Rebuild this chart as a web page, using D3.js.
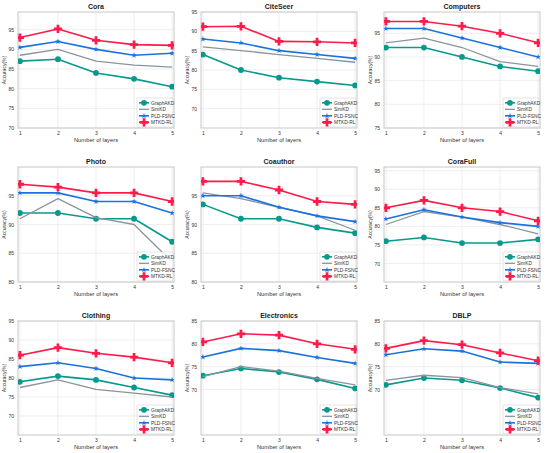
<!DOCTYPE html>
<html>
<head>
<meta charset="utf-8">
<script src="https://cdn.jsdelivr.net/npm/d3@7"></script>
<style>
  body { margin: 0; background: #fff; }
  svg { display: block; font-family: "Liberation Sans", Arial, sans-serif; }
</style>
</head>
<body>
<div id="chart"></div>
<script>
// datasets, one panel each (row by row)
const datasets = ["Cora", "CiteSeer", "Computers", "Photo", "Coauthor", "CoraFull", "Clothing", "Electronics", "DBLP"];
const layers = [1, 2, 3, 4, 5];
const methods = ["GraphAKD", "SimKD", "PLD-FSNC", "MTKD-RL"];

// accuracy (%) per dataset, per layer count
const graphAKD = [
  [87, 87.5, 84, 82.5, 80.5],
  [84, 80, 78, 77, 76],
  [92, 92, 90, 88, 87],
  [92, 92, 91, 91, 87],
  [93.5, 91, 91, 89.5, 88.5],
  [76, 77, 75.5, 75.5, 76.5],
  [79, 80.5, 79.5, 77.5, 75.5],
  [73, 74.6, 73.8, 72.2, 70.2],
  [71, 72.5, 72, 70.3, 68.2]
];
const simKD = [
  [88.5, 90, 87, 86, 85.5],
  [86, 85, 84, 83, 82],
  [93, 94, 92, 89, 88],
  [91, 94.5, 91.2, 90, 83.5],
  [95.5, 94.5, 93, 91.5, 89],
  [80.5, 84, 82.5, 80.5, 78],
  [77.5, 79.5, 77, 76, 75],
  [72.8, 75, 74, 72.4, 71],
  [72, 73.1, 72.6, 70.4, 69]
];
const pldFSNC = [
  [90.5, 92, 90, 88.5, 89],
  [88, 87, 85, 84, 83],
  [96, 96, 94, 92, 90],
  [95.5, 95.5, 94, 94, 92],
  [95, 95, 93, 91.5, 90.5],
  [82, 84.5, 82.5, 81, 80],
  [83, 84, 82.5, 80, 79.5],
  [77.1, 79, 78.5, 77, 75.7],
  [77.6, 78.9, 78.4, 76, 75.7]
];
const mtkdRL = [
  [93, 95.2, 92.3, 91.2, 91],
  [91.2, 91.3, 87.4, 87.3, 87],
  [97.5, 97.5, 96.5, 95, 93],
  [97, 96.5, 95.5, 95.5, 94],
  [97.5, 97.5, 96, 94, 93.5],
  [85, 87, 85, 84, 81.5],
  [86, 88, 86.5, 85.5, 84],
  [80.4, 82.2, 81.9, 80, 78.8],
  [79, 80.7, 79.8, 78, 76.3]
];

// y ranges and tick labels per panel
const yDomains = [[70, 99.5], [65, 95], [75, 99.5], [80, 100], [80, 100], [65, 96], [65, 95], [60, 85], [60, 85]];
const yTicks = [
  [70, 75, 80, 85, 90, 95],
  [70, 75, 80, 85, 90, 95],
  [75, 80, 85, 90, 95],
  [80, 85, 90, 95],
  [80, 85, 90, 95],
  [70, 75, 80, 85, 90, 95],
  [70, 75, 80, 85, 90, 95],
  [70, 75, 80, 85],
  [70, 75, 80, 85]
];

const seriesData = [graphAKD, simKD, pldFSNC, mtkdRL];
const colors = ["#079a8c", "#8a949e", "#1a72e0", "#ff1a4a"];
const symbols = [d3.symbolCircle, null, d3.symbolStar, d3.symbolCross];
const symSize = [26, 0, 10, 38];
const lineW = [1.6, 1.3, 1.6, 1.6];

const width = 550, height = 453;
const colX = [18, 201, 384];
const rowY = [12, 167, 321];
const rowH = [116, 115, 114];
const plotW = 156;

const svg = d3.select("#chart").append("svg")
  .attr("width", width)
  .attr("height", height);

datasets.forEach((name, i) => {
  const col = i % 3, row = Math.floor(i / 3);
  const h = rowH[row];
  const g = svg.append("g")
    .attr("transform", `translate(${colX[col]},${rowY[row]})`);

  const x = d3.scaleLinear().domain([0.95, 5.05]).range([0, plotW]);
  const y = d3.scaleLinear().domain(yDomains[i]).range([h, 0]);

  // grid
  g.append("g").selectAll("line").data(layers).join("line")
    .attr("x1", d => x(d)).attr("x2", d => x(d))
    .attr("y1", 0).attr("y2", h)
    .attr("stroke", "#e6e6e6").attr("stroke-width", 0.7);
  g.append("g").selectAll("line").data(yTicks[i]).join("line")
    .attr("x1", 0).attr("x2", plotW)
    .attr("y1", d => y(d)).attr("y2", d => y(d))
    .attr("stroke", "#e6e6e6").attr("stroke-width", 0.7);

  // frame
  g.append("rect")
    .attr("width", plotW).attr("height", h)
    .attr("fill", "none").attr("stroke", "#c8c8c8").attr("stroke-width", 1);

  // axes
  const xAxis = g.append("g").attr("transform", `translate(0,${h})`)
    .call(d3.axisBottom(x).tickValues(layers).tickFormat(d3.format("d")).tickSize(0).tickPadding(3));
  const yAxis = g.append("g")
    .call(d3.axisLeft(y).tickValues(yTicks[i]).tickFormat(d3.format("d")).tickSize(0).tickPadding(4));
  [xAxis, yAxis].forEach(a => {
    a.select(".domain").remove();
    a.selectAll("text").attr("font-size", 5).attr("fill", "#333")
      .attr("font-family", "Liberation Sans, Arial, sans-serif");
  });

  g.append("text")
    .attr("x", plotW / 2).attr("y", h + 14)
    .attr("text-anchor", "middle")
    .attr("font-size", 5.8).attr("fill", "#333")
    .text("Number of layers");

  g.append("text")
    .attr("transform", `translate(-12,${h / 2}) rotate(-90)`)
    .attr("text-anchor", "middle")
    .attr("font-size", 5).attr("fill", "#333")
    .text("Accuracy(%)");

  g.append("text")
    .attr("x", plotW / 2).attr("y", -3)
    .attr("text-anchor", "middle")
    .attr("font-size", 7).attr("font-weight", "bold").attr("fill", "#222")
    .text(name);

  const line = d3.line().x((d, k) => x(layers[k])).y(d => y(d));
  const clip = "clip" + i;
  g.append("clipPath").attr("id", clip).append("rect")
    .attr("width", plotW).attr("height", h);
  const plot = g.append("g").attr("clip-path", `url(#${clip})`);

  seriesData.forEach((s, m) => {
    const vals = s[i];
    plot.append("path")
      .datum(vals)
      .attr("d", line)
      .attr("fill", "none")
      .attr("stroke", colors[m])
      .attr("stroke-width", lineW[m])
      .attr("stroke-linejoin", "round");
    if (symbols[m]) {
      plot.selectAll(null).data(vals).join("path")
        .attr("transform", (d, k) => `translate(${x(layers[k])},${y(d)})`)
        .attr("d", d3.symbol().type(symbols[m]).size(symSize[m]))
        .attr("fill", colors[m]);
    }
  });

  // legend
  const lg = g.append("g").attr("transform", `translate(${plotW - 37},${h - 30})`);
  lg.append("rect")
    .attr("width", 36).attr("height", 29)
    .attr("fill", "#fff").attr("fill-opacity", 0.9)
    .attr("stroke", "#d0d0d0").attr("stroke-width", 0.6).attr("rx", 1);
  methods.forEach((mName, m) => {
    const ey = 4.8 + m * 6.5;
    const e = lg.append("g").attr("transform", `translate(0,${ey})`);
    e.append("line").attr("x1", 2).attr("x2", 12)
      .attr("stroke", colors[m]).attr("stroke-width", lineW[m]);
    if (symbols[m]) {
      e.append("path").attr("transform", "translate(7,0)")
        .attr("d", d3.symbol().type(symbols[m]).size(symSize[m]))
        .attr("fill", colors[m]);
    }
    e.append("text").attr("x", 14).attr("y", 1.8)
      .attr("font-size", 4.8).attr("fill", "#333")
      .text(mName);
  });
});
</script>
</body>
</html>
